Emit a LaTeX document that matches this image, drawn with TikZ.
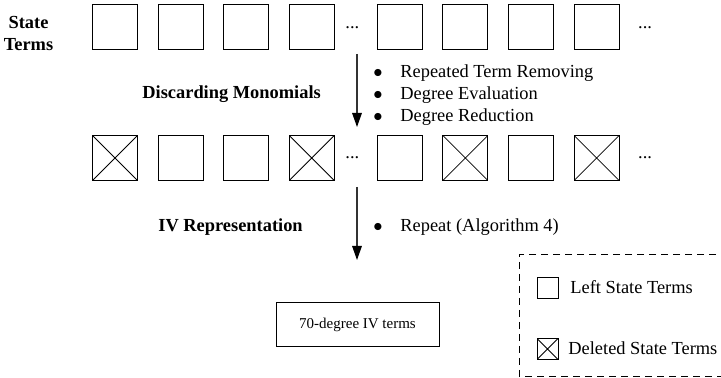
\documentclass[tikz,border=0pt]{standalone}
\usepackage{fontspec}
\setmainfont{Liberation Serif}
\usetikzlibrary{arrows.meta}
\tikzstyle{term} = [rectangle, 
draw=black, 
line width=0.5pt, 
minimum size=22.5pt, 
inner sep=0pt]
\tikzstyle{deleted} = [term, 
path picture={\draw[line width=0.4pt] (path picture bounding box.north west) -- (path picture bounding box.south east)
(path picture bounding box.south west) -- (path picture bounding box.north east);}]
\tikzstyle{dots} = [inner sep=0pt, font=\fontsize{9.2}{11}\selectfont]
\tikzstyle{stage} = [inner sep=0pt, 
font=\fontsize{9.2}{11}\selectfont\bfseries, 
align=center]
\tikzstyle{note} = [inner sep=0pt, 
font=\fontsize{9.2}{11}\selectfont, 
anchor=base west]
\tikzstyle{result} = [rectangle, 
draw=black, 
line width=0.5pt, 
minimum width=81.5pt, 
minimum height=22pt, 
font=\fontsize{7.5}{9}\selectfont]
\tikzstyle{arrow} = [draw=black!80, line width=0.6pt, -{Triangle[length=7pt, width=4.8pt, color=black]}]

\begin{document}
\begin{tikzpicture}[x=0.5pt, y=-0.5pt, node distance=32.8pt]
\useasboundingbox (0,0) rectangle (721,378);

% state terms
\node (st) [stage] at (28.5,34) {State\\Terms};
\node (s11) [term] at (115,27.5) {};
\node (s12) [term, right of=s11] {};
\node (s13) [term, right of=s12] {};
\node (s14) [term, right of=s13] {};
\node (d11) [dots, right of=s14, node distance=20.25pt] {...};
\node (s15) [term, right of=s14, xshift=11.2pt] {};
\node (s16) [term, right of=s15] {};
\node (s17) [term, right of=s16] {};
\node (s18) [term, right of=s17] {};
\node (d12) [dots, right of=s18, node distance=24.25pt] {...};

% discarding monomials
\coordinate (a1s) at (357,54);
\coordinate (a1e) at (357,127);
\draw [arrow] (a1s) -- (a1e);
\node (dm) [stage, anchor=base west] at (142,99) {Discarding Monomials};
\node (r1) [note] at (373,77.5) {\makebox[13.5pt][l]{$\bullet$}Repeated Term Removing};
\node (r2) [note] at (373,99.5) {\makebox[13.5pt][l]{$\bullet$}Degree Evaluation};
\node (r3) [note] at (373,121.5) {\makebox[13.5pt][l]{$\bullet$}Degree Reduction};

% after discarding
\node (s21) [deleted] at (115,158) {};
\node (s22) [term, right of=s21] {};
\node (s23) [term, right of=s22] {};
\node (s24) [deleted, right of=s23] {};
\node (d21) [dots, right of=s24, node distance=20.25pt] {...};
\node (s25) [term, right of=s24, xshift=11.2pt] {};
\node (s26) [deleted, right of=s25] {};
\node (s27) [term, right of=s26] {};
\node (s28) [deleted, right of=s27] {};
\node (d22) [dots, right of=s28, node distance=24.25pt] {...};

% iv representation
\coordinate (a2s) at (357,187);
\coordinate (a2e) at (357,260);
\draw [arrow] (a2s) -- (a2e);
\node (iv) [stage, anchor=base west] at (158,232) {IV Representation};
\node (rp) [note] at (373,232) {\makebox[13.5pt][l]{$\bullet$}Repeat (Algorithm 4)};
\node (res) [result] at (357.5,325) {70-degree IV terms};

% legend
\draw [line width=0.5pt, dash pattern=on 3.5pt off 2.5pt] (740,255) -- (519,255) -- (519,376) -- (740,376);
\node (l1) [term, minimum size=10.5pt] at (547.5,288.5) {};
\node (l2) [deleted, minimum size=10.5pt] at (547.5,349) {};
\node (lt1) [note] at (570,293.5) {Left State Terms};
\node (lt2) [note] at (568,355) {Deleted State Terms};
\end{tikzpicture}
\end{document}
